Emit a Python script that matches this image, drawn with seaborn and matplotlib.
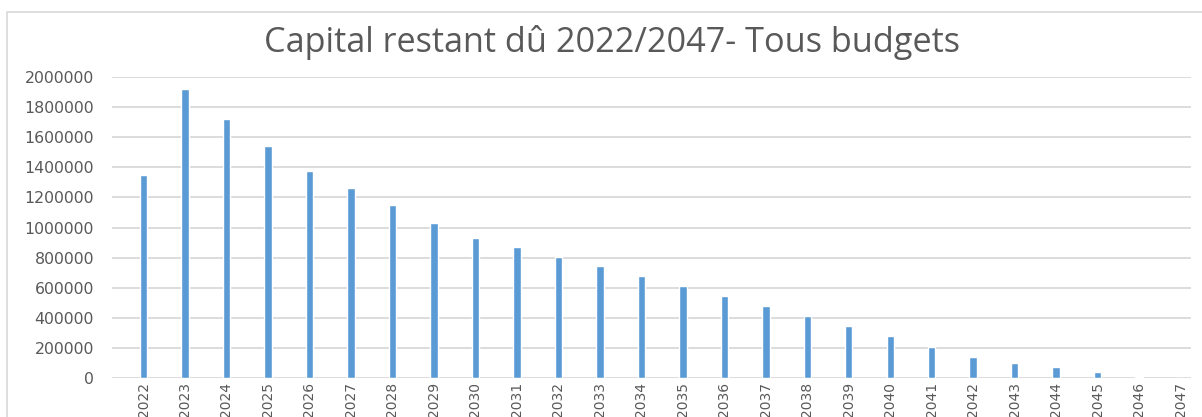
import matplotlib
matplotlib.use("Agg")
import matplotlib.pyplot as plt
import seaborn as sns
import pandas as pd
from matplotlib.patches import Rectangle

# Values
years = [str(y) for y in range(2022, 2048)]
capital = [1349000, 1920000, 1721000, 1541000, 1375000, 1262000, 1150000,
           1030000, 930000, 870000, 804000, 744000, 678000, 611000, 545000,
           478000, 410000, 345000, 279000, 208000, 140000, 100000, 71000,
           38000, 8000, 0]
yticks = list(range(0, 2000001, 200000))

sns.set_style("white")
plt.rcParams['font.family'] = ['DejaVu Sans']

df = pd.DataFrame({"annee": years, "capital": capital})

fig = plt.figure(figsize=(12.02, 4.17), dpi=100)
ax = fig.add_axes([112 / 1202, 1 - 378 / 417, (1191 - 112) / 1202, (378 - 77) / 417])

sns.barplot(data=df, x="annee", y="capital", color="#5B9BD5", width=0.18,
            saturation=1, ax=ax)

ax.set_ylim(0, 2000000)
ax.set_xlim(-0.76, 25.25)
ax.set_yticks(yticks)
ax.set_yticklabels([str(v) for v in yticks], color="#595959", fontsize=11.3)
ax.set_xticks(range(len(years)))
ax.set_xticklabels(years, rotation=90, color="#595959", fontsize=10,
                   family=['Liberation Sans Narrow', 'DejaVu Sans'])
ax.tick_params(axis='y', length=0, pad=13)
ax.tick_params(axis='x', length=0, pad=3)
ax.set_xlabel("")
ax.set_ylabel("")
for s in ax.spines.values():
    s.set_visible(False)
ax.grid(axis='y', color="#d9d9d9", linewidth=1.3)
ax.set_axisbelow(True)

fig.text(0.5095, 1 - 42 / 417, "Capital restant dû 2022/2047- Tous budgets",
         ha='center', va='center', fontsize=24.7, color="#595959",
         family=['Open Sans', 'DejaVu Sans'])

# light chart frame
fig.patches.append(Rectangle((7 / 1202, -0.01), 1.02, 1 - 12 / 417 + 0.01,
                             transform=fig.transFigure, fill=False,
                             edgecolor="#d9d9d9", linewidth=1.2))

fig.savefig("out.png", dpi=100, facecolor='white')
